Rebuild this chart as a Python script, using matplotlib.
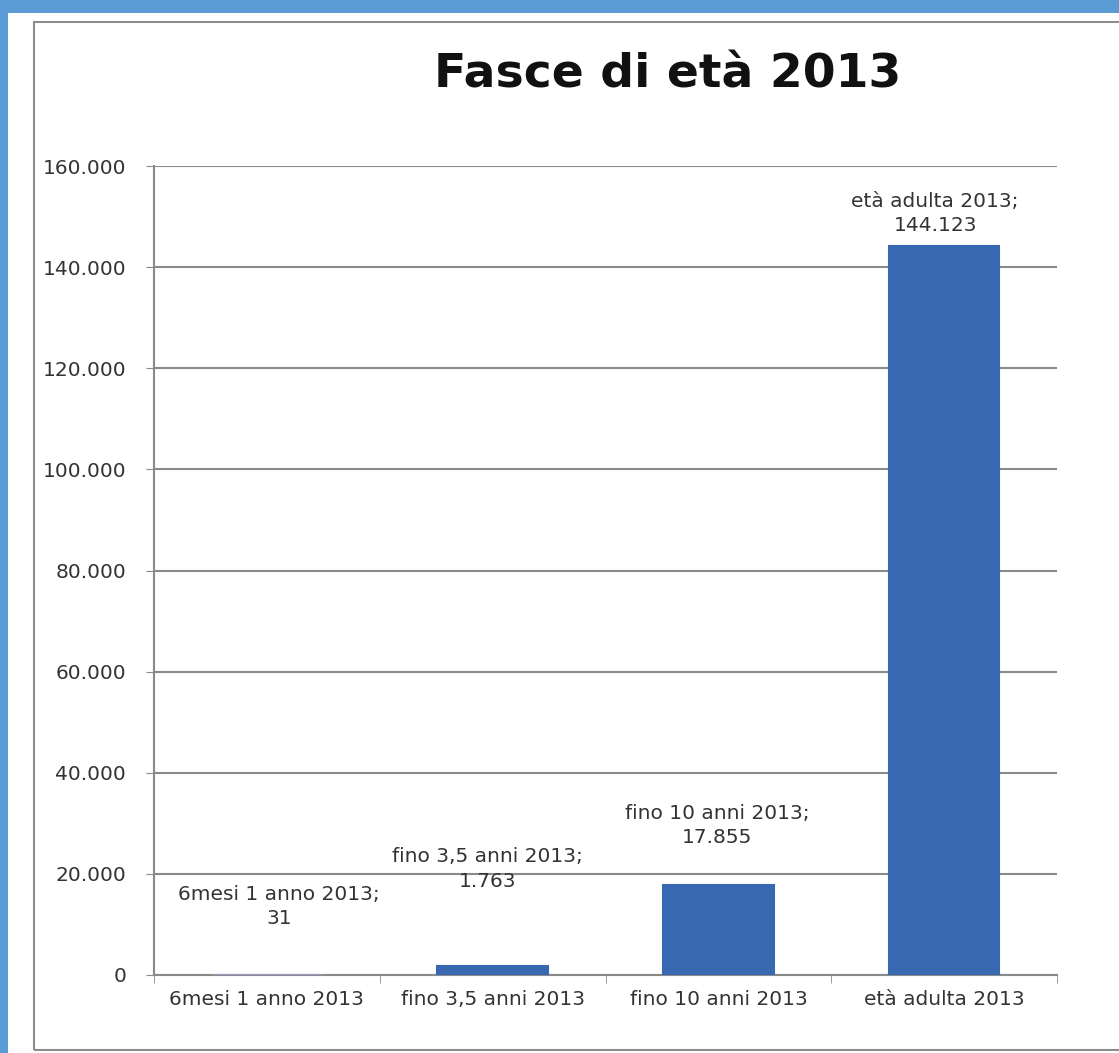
import matplotlib
matplotlib.use("Agg")
import matplotlib.pyplot as plt
from matplotlib.patches import Rectangle
from matplotlib.ticker import FuncFormatter

categories = ["6mesi 1 anno 2013", "fino 3,5 anni 2013", "fino 10 anni 2013", "età adulta 2013"]
values = [31, 1763, 17855, 144123]
value_labels = ["31", "1.763", "17.855", "144.123"]
yticks = [0, 20000, 40000, 60000, 80000, 100000, 120000, 140000, 160000]
title = "Fasce di età 2013"

W, H = 1119, 1053
fig = plt.figure(figsize=(W / 100, H / 100), dpi=100)
fig.patch.set_facecolor("#5B9BD5")

# white sheet area
fig.add_artist(Rectangle((8 / W, 0), 1 - 8 / W, 1 - 13 / H, transform=fig.transFigure,
                         facecolor="white", edgecolor="none", zorder=0))
# chart outer border
fig.add_artist(Rectangle((34 / W, (H - 1050) / H), 1.2, (1050 - 22) / H, transform=fig.transFigure,
                         facecolor="none", edgecolor="#8c8c8c", linewidth=1.5, zorder=1))

ax = fig.add_axes([154 / W, 78 / H, (1057 - 154) / W, (975 - 166) / H])
ax.set_facecolor("none")
x = list(range(len(categories)))
bar_color = "#3868B0"
ax.bar(x, values, width=0.49, color=bar_color,
       edgecolor=["#9a9ac8", bar_color, bar_color, bar_color], linewidth=1.5, zorder=3)
ax.set_xlim(-0.5, len(categories) - 0.5)
ax.set_ylim(0, 160000)
ax.set_yticks(yticks)
ax.yaxis.set_major_formatter(FuncFormatter(lambda v, p: f"{int(v):,}".replace(",", ".")))
ax.set_xticks(x)
ax.set_xticklabels(categories)
ax.set_xticks([i - 0.5 for i in range(len(categories) + 1)], minor=True)
ax.grid(axis="y", color="#8a8a8a", linewidth=1.5, zorder=1)
for s in ["top", "right"]:
    ax.spines[s].set_visible(False)
ax.spines["left"].set_color("#8a8a8a")
ax.spines["left"].set_linewidth(1.5)
ax.spines["bottom"].set_color("#8a8a8a")
ax.spines["bottom"].set_linewidth(1.5)
ax.tick_params(axis="y", length=6, color="#8a8a8a", labelsize=14.5, labelcolor="#333333", pad=14)
ax.tick_params(axis="x", which="major", length=0, labelsize=14.5, labelcolor="#333333", pad=11)
ax.tick_params(axis="x", which="minor", length=6, color="#8a8a8a")

offsets = [(12, 68), (-5, 97), (-1, 59), (-9, 33)]
for i, (v, lab, cat) in enumerate(zip(values, value_labels, categories)):
    ax.annotate(f"{cat};\n{lab}", xy=(i, v), xytext=offsets[i], textcoords="offset pixels",
                ha="center", va="center", multialignment="center", fontsize=14.5,
                color="#333333", linespacing=1.35, zorder=4)

fig.text(668 / W, 1 - 75 / H, title, ha="center", va="center", fontsize=34,
         fontweight="bold", color="#111111")

fig.savefig("out.png", dpi=100, facecolor=fig.get_facecolor())
